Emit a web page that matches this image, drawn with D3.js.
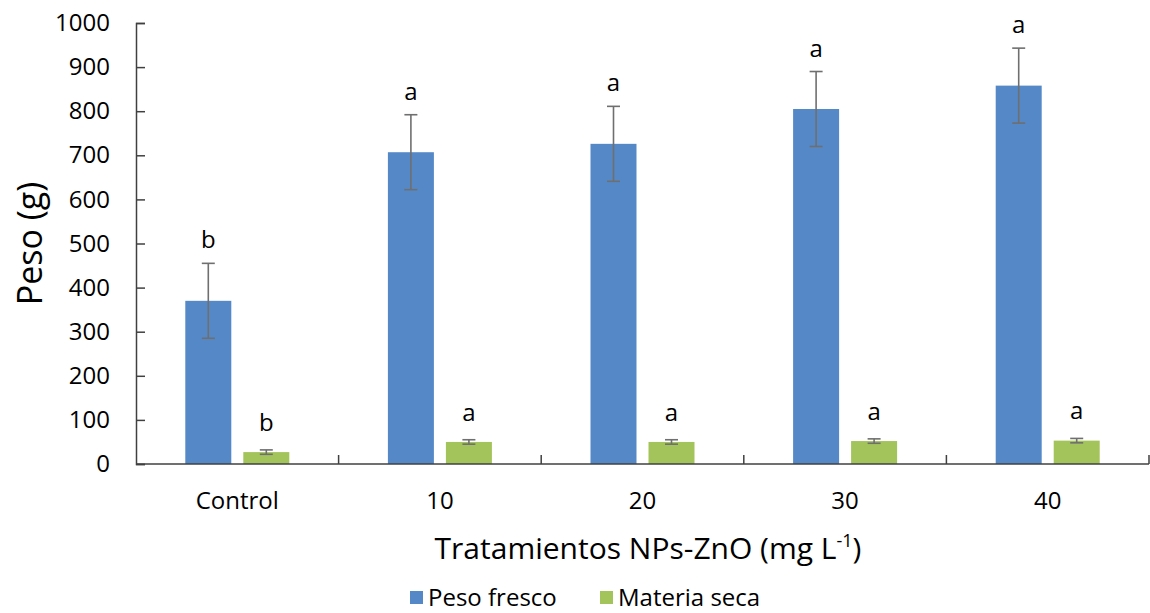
<!DOCTYPE html>
<html lang="es">
<head>
<meta charset="UTF-8">
<title>Peso por tratamiento</title>
<script src="https://d3js.org/d3.v7.min.js"></script>
<style>
  body { margin: 0; background: #fff; }
  svg text { font-family: "Open Sans", sans-serif; fill: #000; }
</style>
</head>
<body>
<div id="chart"></div>
<script>
// data
const categories = ["Control", "10", "20", "30", "40"];
const seriesNames = ["Peso fresco", "Materia seca"];
const pesoFresco = [370, 707, 726, 805, 858];
const pesoFrescoErr = [85, 85, 85, 85, 85];
const materiaSeca = [27, 50, 50, 52, 53];
const materiaSecaErr = [5, 5, 5, 5, 5];
const lettersFresco = ["b", "a", "a", "a", "a"];
const lettersSeca = ["b", "a", "a", "a", "a"];
const yTicks = [0, 100, 200, 300, 400, 500, 600, 700, 800, 900, 1000];

const width = 1150, height = 613;
const margin = { left: 136, right: 0, top: 23, bottom: 149 };
const colors = ["#5588c7", "#a3c45a"];

const svg = d3.select("#chart").append("svg")
    .attr("width", width)
    .attr("height", height);

const x = d3.scaleBand()
    .domain(categories)
    .range([margin.left, width - 1])
    .paddingInner(0).paddingOuter(0);

// two bars per group: ~46px wide with ~12px between them
const x1 = d3.scaleBand()
    .domain(seriesNames)
    .range([0, x.bandwidth()])
    .paddingInner(0.207)
    .paddingOuter(0.85);

const y = d3.scaleLinear()
    .domain([0, 1000])
    .range([height - margin.bottom, margin.top]);

const series = [
    { name: seriesNames[0], values: pesoFresco, err: pesoFrescoErr, letters: lettersFresco, color: colors[0], gap: 15 },
    { name: seriesNames[1], values: materiaSeca, err: materiaSecaErr, letters: lettersSeca, color: colors[1], gap: 19 }
];

// bars
series.forEach(s => {
    const g = svg.append("g");
    const rows = categories.map((c, i) => ({ c, v: s.values[i], e: s.err[i], l: s.letters[i] }));
    g.selectAll("rect").data(rows).join("rect")
        .attr("x", d => x(d.c) + x1(s.name))
        .attr("width", x1.bandwidth())
        .attr("y", d => y(d.v))
        .attr("height", d => y(0) - y(d.v))
        .attr("fill", s.color);

    // error bars
    const cx = d => x(d.c) + x1(s.name) + x1.bandwidth() / 2;
    const eb = g.selectAll(".err").data(rows).join("g").attr("class", "err")
        .attr("stroke", "#6f6f6f").attr("stroke-width", 1.6);
    eb.append("line").attr("x1", cx).attr("x2", cx)
        .attr("y1", d => y(d.v + d.e)).attr("y2", d => y(d.v - d.e));
    eb.append("line").attr("x1", d => cx(d) - 6.5).attr("x2", d => cx(d) + 6.5)
        .attr("y1", d => y(d.v + d.e)).attr("y2", d => y(d.v + d.e));
    eb.append("line").attr("x1", d => cx(d) - 6.5).attr("x2", d => cx(d) + 6.5)
        .attr("y1", d => y(d.v - d.e)).attr("y2", d => y(d.v - d.e));

    // significance letters
    g.selectAll(".lbl").data(rows).join("text").attr("class", "lbl")
        .attr("x", cx)
        .attr("y", d => y(d.v + d.e) - s.gap)
        .attr("text-anchor", "middle")
        .attr("font-size", 24)
        .text(d => d.l);
});

// y axis
const yAxis = svg.append("g")
    .attr("transform", `translate(${margin.left},0)`)
    .call(d3.axisLeft(y).tickValues(yTicks).tickFormat(d3.format("d")).tickSize(-9).tickPadding(26));
yAxis.selectAll("text").attr("font-size", 24).style("font-family", "Open Sans");
yAxis.selectAll("line, path").attr("stroke", "#404040").attr("stroke-width", 1.5);

// x axis with ticks between categories
const xAxisG = svg.append("g").attr("transform", `translate(0,${y(0)})`);
xAxisG.append("line")
    .attr("x1", margin.left).attr("x2", width - 1)
    .attr("stroke", "#404040").attr("stroke-width", 1.5);
const bounds = categories.map(c => x(c)).concat([x.range()[1]]);
xAxisG.selectAll(".tk").data(bounds.slice(1)).join("line").attr("class", "tk")
    .attr("x1", d => d).attr("x2", d => d)
    .attr("y1", 0).attr("y2", -9)
    .attr("stroke", "#404040").attr("stroke-width", 1.5);
xAxisG.selectAll(".cat").data(categories).join("text").attr("class", "cat")
    .attr("x", d => x(d) + x.bandwidth() / 2)
    .attr("y", 45)
    .attr("text-anchor", "middle")
    .attr("font-size", 24)
    .text(d => d);

// axis titles
svg.append("text")
    .attr("transform", `translate(42,${(y(0) + y(1000)) / 2}) rotate(-90)`)
    .attr("text-anchor", "middle")
    .attr("font-size", 34)
    .text("Peso (g)");

const xt = svg.append("text")
    .attr("x", 648).attr("y", 559)
    .attr("text-anchor", "middle")
    .attr("font-size", 30);
xt.append("tspan").text("Tratamientos NPs-ZnO (mg L");
xt.append("tspan").attr("dy", -12).attr("font-size", 18).text("-1");
xt.append("tspan").attr("dy", 12).text(")");

// legend
const legend = svg.append("g").attr("transform", "translate(410,591)");
const legX = [0, 190];
series.forEach((s, i) => {
    const lg = legend.append("g").attr("transform", `translate(${legX[i]},0)`);
    lg.append("rect").attr("width", 13).attr("height", 13).attr("fill", s.color);
    lg.append("text").attr("x", 18).attr("y", 15).attr("font-size", 24).text(s.name);
});
</script>
</body>
</html>
